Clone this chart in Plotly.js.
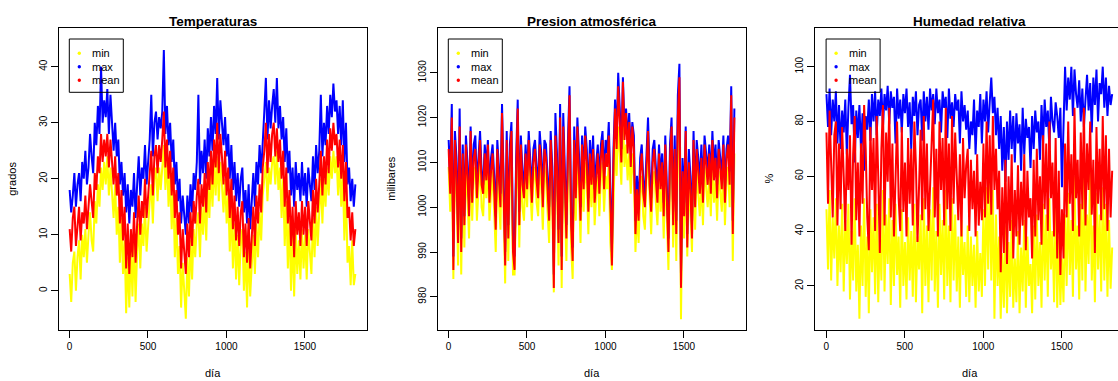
<!DOCTYPE html>
<html>
<head>
<meta charset="utf-8">
<script src="https://cdn.plot.ly/plotly-3.0.1.min.js"></script>
<style>
html, body { margin: 0; padding: 0; overflow: hidden; background: #fff; }
#chart { width: 1128px; height: 381px; }
</style>
</head>
<body>
<div id="chart"></div>
<script>
const DAY_STEP = 10;
const seriesNames = ["min", "max", "mean"];
const xTicks = [0, 500, 1000, 1500];

const tempMin = [
  3, -2, 5, 7, 0, 6, 9, 2, 10, 6,
  11, 5, 10, 14, 9, 7, 16, 12, 19, 15,
  22, 18, 23, 19, 24, 17, 22, 18, 13, 19,
  10, 15, 5, 13, 3, 9, -4, 6, -3, 8,
  -1, 9, -2, 7, 12, 4, 12, 8, 15, 7,
  12, 16, 19, 12, 20, 22, 16, 22, 18, 23,
  26, 18, 24, 15, 21, 11, 18, 6, 13, 3,
  8, -3, 5, 0, -5, 6, -1, 9, 2, 11,
  6, 12, 14, 6, 15, 10, 17, 9, 19, 13,
  21, 15, 23, 17, 24, 16, 23, 19, 14, 20,
  12, 17, 7, 15, 4, 12, 2, 10, 1, 9,
  11, 0, 7, -3, 8, -1, 5, 10, 3, 12,
  6, 14, 9, 17, 20, 23, 16, 22, 19, 23,
  24, 19, 25, 18, 22, 13, 20, 8, 16, 4,
  13, 0, 10, -1, 11, 3, 9, 2, 11, 4,
  10, 2, 11, 6, 3, 13, 6, 15, 8, 14,
  20, 12, 20, 15, 22, 17, 24, 20, 25, 21,
  24, 17, 23, 15, 21, 9, 18, 5, 8, 1,
  9, 1, 3
];
const tempMax = [
  18, 14, 17, 21, 15, 19, 21, 16, 23, 20,
  25, 19, 22, 28, 24, 21, 30, 26, 33, 28,
  40, 30, 34, 31, 36, 28, 35, 29, 25, 30,
  24, 27, 19, 23, 17, 21, 14, 19, 12, 18,
  15, 21, 13, 19, 24, 17, 22, 20, 26, 19,
  23, 27, 35, 24, 30, 32, 27, 31, 29, 32,
  43, 28, 33, 26, 30, 23, 27, 19, 23, 16,
  20, 12, 17, 14, 10, 17, 12, 19, 14, 21,
  18, 23, 35, 19, 25, 21, 27, 20, 29, 24,
  31, 25, 33, 28, 38, 27, 34, 30, 26, 31,
  24, 28, 20, 26, 18, 23, 16, 21, 15, 20,
  22, 14, 18, 12, 19, 11, 16, 21, 15, 23,
  19, 26, 21, 28, 32, 38, 27, 34, 29, 33,
  36, 30, 38, 29, 33, 27, 31, 23, 29, 21,
  25, 17, 22, 15, 23, 18, 21, 16, 23, 17,
  21, 15, 22, 19, 16, 24, 18, 26, 21, 25,
  35, 24, 30, 26, 33, 28, 35, 31, 37, 32,
  34, 28, 33, 26, 34, 23, 30, 19, 22, 16,
  20, 15, 19
];
const tempMean = [
  11, 7, 13, 15, 8, 12, 15, 9, 14, 12,
  17, 11, 15, 19, 16, 13, 21, 18, 24, 21,
  28, 23, 27, 24, 28, 22, 27, 23, 19, 24,
  17, 21, 12, 18, 9, 15, 4, 12, 3, 11,
  6, 14, 5, 12, 17, 10, 16, 13, 20, 13,
  17, 21, 25, 17, 24, 26, 21, 26, 23, 27,
  32, 22, 27, 20, 25, 17, 22, 13, 18, 10,
  14, 4, 11, 7, 3, 12, 6, 14, 8, 16,
  12, 17, 20, 12, 19, 15, 21, 14, 23, 18,
  25, 19, 27, 22, 30, 21, 28, 24, 19, 25,
  17, 22, 13, 20, 11, 17, 9, 15, 8, 14,
  16, 6, 12, 5, 13, 4, 10, 15, 8, 17,
  12, 19, 14, 22, 25, 30, 21, 28, 23, 28,
  30, 24, 29, 23, 27, 20, 25, 15, 22, 12,
  18, 8, 15, 6, 16, 10, 14, 8, 16, 10,
  15, 8, 16, 12, 9, 18, 12, 20, 14, 19,
  25, 17, 24, 19, 27, 21, 29, 25, 30, 26,
  28, 22, 27, 20, 26, 16, 23, 13, 15, 9,
  14, 8, 11
];

const presMin = [
  1009, 999, 1015, 984, 1011, 1003, 987, 1013, 985, 1007,
  991, 1010, 1002, 993, 1012, 997, 1007, 1009, 997, 1005,
  1011, 1000, 998, 1008, 1002, 1010, 997, 1003, 1008, 999,
  990, 1008, 1002, 995, 1015, 998, 983, 1010, 988, 1006,
  1012, 985, 985, 1003, 1015, 991, 1009, 1000, 997, 1008,
  1000, 1011, 1003, 997, 1006, 1009, 1001, 998, 1010, 1004,
  995, 1009, 1006, 1000, 992, 1010, 1001, 981, 1010, 1004,
  987, 1013, 982, 1012, 999, 988, 1006, 1018, 991, 984,
  1010, 997, 1012, 1004, 992, 1009, 999, 1010, 1005, 994,
  1008, 1000, 1009, 996, 1003, 1007, 998, 1007, 1010, 999,
  1007, 1004, 1010, 992, 986, 1005, 1015, 1007, 1018, 1012,
  1005, 1020, 1009, 1014, 1006, 1012, 1003, 1012, 1007, 990,
  999, 992, 1003, 1007, 998, 995, 1006, 1011, 1000, 994,
  1005, 1008, 1001, 996, 1007, 999, 1005, 993, 1009, 998,
  986, 1006, 1012, 991, 1008, 988, 1013, 1020, 975, 1003,
  993, 1011, 989, 1005, 999, 990, 1010, 995, 1008, 1003,
  998, 1006, 996, 1009, 1004, 1000, 1007, 998, 1010, 1001,
  1006, 997, 1008, 1003, 999, 1009, 996, 1006, 1009, 1000,
  1017, 988, 1012
];
const presMax = [
  1015, 1006, 1023, 989, 1017, 1011, 995, 1022, 993, 1014,
  998, 1016, 1010, 1001, 1018, 1004, 1014, 1016, 1005, 1011,
  1017, 1008, 1005, 1014, 1009, 1015, 1004, 1011, 1014, 1007,
  998, 1015, 1010, 1003, 1023, 1006, 990, 1017, 996, 1014,
  1019, 993, 989, 1011, 1024, 999, 1016, 1008, 1005, 1014,
  1007, 1017, 1011, 1004, 1013, 1015, 1009, 1005, 1017, 1012,
  1003, 1015, 1014, 1007, 1000, 1017, 1009, 985, 1021, 1012,
  995, 1023, 989, 1021, 1007, 996, 1015, 1027, 999, 991,
  1018, 1005, 1020, 1012, 1000, 1016, 1007, 1018, 1013, 1002,
  1015, 1008, 1016, 1004, 1010, 1014, 1006, 1014, 1017, 1007,
  1015, 1012, 1019, 1000, 990, 1013, 1024, 1016, 1030, 1022,
  1013, 1029, 1018, 1022, 1015, 1021, 1012, 1019, 1016, 997,
  1007, 1000, 1011, 1014, 1006, 1003, 1013, 1020, 1008, 1002,
  1013, 1015, 1009, 1004, 1014, 1007, 1012, 1001, 1016, 1006,
  993, 1014, 1020, 999, 1016, 997, 1025, 1032, 985, 1011,
  1001, 1018, 994, 1013, 1007, 996, 1017, 1003, 1015, 1011,
  1006, 1014, 1004, 1016, 1012, 1008, 1014, 1006, 1017, 1009,
  1014, 1005, 1015, 1011, 1007, 1016, 1004, 1013, 1016, 1008,
  1027, 997, 1022
];
const presMean = [
  1013, 1003, 1020, 986, 1015, 1008, 992, 1018, 990, 1012,
  996, 1014, 1007, 998, 1017, 1001, 1011, 1013, 1002, 1009,
  1015, 1005, 1003, 1012, 1006, 1014, 1001, 1008, 1012, 1004,
  995, 1013, 1007, 1000, 1021, 1003, 987, 1015, 993, 1011,
  1017, 990, 986, 1008, 1022, 996, 1014, 1005, 1002, 1012,
  1004, 1015, 1008, 1001, 1010, 1013, 1006, 1002, 1014, 1009,
  1000, 1013, 1011, 1004, 997, 1015, 1006, 982, 1016, 1009,
  992, 1020, 986, 1018, 1004, 993, 1012, 1025, 996, 988,
  1015, 1002, 1018, 1009, 997, 1014, 1004, 1016, 1010, 999,
  1012, 1005, 1013, 1001, 1007, 1012, 1003, 1011, 1015, 1004,
  1012, 1009, 1016, 997, 987, 1010, 1022, 1013, 1027, 1019,
  1010, 1028, 1015, 1021, 1012, 1019, 1009, 1018, 1013, 994,
  1004, 997, 1008, 1012, 1003, 1000, 1011, 1017, 1005, 999,
  1010, 1013, 1006, 1001, 1012, 1004, 1010, 998, 1014, 1003,
  990, 1011, 1018, 996, 1013, 994, 1020, 1029, 982, 1008,
  998, 1017, 991, 1010, 1004, 993, 1015, 1000, 1013, 1008,
  1003, 1011, 1001, 1014, 1009, 1005, 1012, 1003, 1015, 1006,
  1011, 1002, 1013, 1008, 1004, 1014, 1001, 1011, 1014, 1005,
  1025, 994, 1020
];

const humMin = [
  48, 26, 55, 22, 45, 30, 52, 20, 42, 25,
  50, 18, 44, 28, 50, 15, 40, 22, 52, 18,
  35, 8, 42, 20, 52, 16, 38, 10, 48, 25,
  45, 17, 50, 14, 40, 22, 55, 18, 46, 28,
  52, 13, 44, 20, 50, 24, 38, 12, 48, 20,
  36, 15, 45, 22, 40, 16, 50, 14, 38, 26,
  46, 10, 52, 20, 42, 14, 48, 22, 56, 18,
  40, 12, 50, 24, 44, 15, 55, 20, 42, 14,
  52, 22, 46, 18, 38, 12, 44, 24, 36, 16,
  42, 14, 38, 20, 35, 12, 40, 18, 32, 16,
  48, 20, 56, 26, 60, 22, 55, 8, 46, 20,
  38, 8, 32, 12, 42, 10, 36, 16, 44, 12,
  30, 14, 40, 10, 34, 18, 44, 12, 38, 20,
  28, 10, 42, 15, 46, 20, 36, 12, 50, 22,
  46, 16, 52, 26, 40, 14, 50, 12, 38, 13,
  30, 14, 46, 20, 54, 24, 44, 16, 60, 26,
  42, 15, 50, 22, 62, 18, 46, 28, 64, 22,
  42, 14, 54, 26, 46, 18, 56, 22, 50, 16,
  44, 19, 34
];
const humMax = [
  90, 78, 92, 75, 88, 80, 91, 72, 86, 70,
  84, 76, 88, 68, 85, 97, 79, 86, 65, 84,
  74, 86, 70, 83, 62, 82, 77, 88, 73, 90,
  80, 91, 75, 88, 82, 92, 78, 90, 84, 93,
  79, 91, 85, 89, 72, 92, 81, 88, 76, 90,
  83, 92, 78, 87, 70, 89, 82, 91, 75, 86,
  88, 73, 91, 80, 89, 77, 92, 84, 90, 79,
  92, 83, 88, 76, 91, 85, 89, 74, 92, 81,
  87, 78, 90, 84, 88, 72, 91, 80, 86, 77,
  84, 70, 80, 75, 88, 68, 84, 78, 90, 72,
  88, 80, 91, 76, 87, 96, 83, 89, 75, 85,
  70, 82, 62, 78, 58, 80, 66, 84, 70, 82,
  65, 83, 72, 79, 62, 85, 68, 81, 74, 78,
  63, 82, 70, 84, 76, 80, 66, 86, 72, 88,
  78, 84, 70, 89, 80, 76, 87, 82, 74, 85,
  56, 80, 100, 84, 96, 88, 100, 82, 99, 90,
  85, 95, 80, 92, 78, 88, 97, 84, 94, 76,
  96, 86, 99, 80, 94, 90, 100, 85, 96, 82,
  93, 86, 90
];
const humMean = [
  76, 50, 84, 62, 45, 75, 80, 42, 72, 48,
  78, 60, 40, 70, 55, 75, 35, 68, 82, 44,
  65, 38, 72, 50, 86, 70, 45, 33, 78, 55,
  74, 40, 82, 60, 32, 70, 86, 42, 76, 58,
  85, 45, 72, 38, 60, 80, 52, 40, 78, 47,
  65, 38, 74, 50, 70, 42, 80, 64, 36, 55,
  77, 44, 82, 48, 72, 40, 58, 78, 88, 45,
  70, 38, 80, 55, 74, 42, 85, 48, 72, 40,
  82, 50, 76, 60, 44, 68, 38, 74, 52, 64,
  70, 40, 66, 48, 62, 38, 68, 42, 58, 44,
  72, 45, 80, 50, 75, 46, 82, 55, 70, 48,
  62, 25, 56, 32, 66, 28, 60, 40, 68, 30,
  55, 38, 64, 35, 58, 42, 68, 33, 62, 45,
  52, 30, 66, 38, 70, 44, 60, 35, 75, 48,
  72, 40, 80, 52, 65, 38, 74, 30, 62, 24,
  48, 30, 72, 45, 80, 50, 68, 40, 85, 52,
  66, 38, 76, 48, 85, 42, 72, 55, 80, 46,
  66, 32, 78, 50, 70, 44, 82, 48, 75, 40,
  70, 45, 62
];

const panels = [
  { title: "Temperaturas", ylab: "grados", yTicks: [0, 10, 20, 30, 40], yRange: [-7, 47],
    series: [tempMin, tempMax, tempMean] },
  { title: "Presion atmosférica", ylab: "milibares", yTicks: [980, 990, 1000, 1010, 1020, 1030], yRange: [972.6, 1040.1],
    series: [presMin, presMax, presMean] },
  { title: "Humedad relativa", ylab: "%", yTicks: [20, 40, 60, 80, 100], yRange: [3.9, 114.3],
    series: [humMin, humMax, humMean] }
];

// ---- layout geometry (pixels) ----
const W = 1128, H = 381;
const fx = p => p / W;
const fy = p => 1 - p / H;
const boxLeft = [58.5, 437.5, 815.3];
const boxW = 308.8;
const boxTop = 27.5, boxBottom = 330;
const xRange = [-70, 1897];
const colors = ["#FFFF00", "#0000FF", "#FF0000"];
const FONT = "Liberation Sans, Arial, Helvetica, sans-serif";

const traces = [];
const layout = {
  width: W, height: H,
  margin: { l: 0, r: 0, t: 0, b: 0, pad: 0 },
  paper_bgcolor: "#fff", plot_bgcolor: "#fff",
  showlegend: false,
  font: { family: FONT, color: "#000", size: 10 },
  annotations: [], shapes: []
};

panels.forEach((p, k) => {
  const sfx = k === 0 ? "" : String(k + 1);
  const L = boxLeft[k], R = L + boxW;
  p.series.forEach((vals, j) => {
    traces.push({
      type: "scatter", mode: "lines",
      x: vals.map((_, i) => 1 + i * DAY_STEP), y: vals,
      xaxis: "x" + sfx, yaxis: "y" + sfx,
      line: { color: colors[j], width: 2 },
      hoverinfo: "skip", name: seriesNames[j]
    });
  });
  const axCommon = {
    showgrid: false, zeroline: false, showline: true, mirror: true,
    linecolor: "#000", linewidth: 1, ticks: "outside", ticklen: 7,
    tickcolor: "#000", tickwidth: 1, tickfont: { family: FONT, size: 10, color: "#000" }
  };
  layout["xaxis" + sfx] = Object.assign({}, axCommon, {
    domain: [fx(L), fx(R)], range: xRange, tickvals: xTicks, ticktext: xTicks.map(String),
    anchor: "y" + sfx
  });
  layout["yaxis" + sfx] = Object.assign({}, axCommon, {
    domain: [fy(boxBottom), fy(boxTop)], range: p.yRange, tickvals: p.yTicks,
    ticktext: p.yTicks.map(String), tickangle: -90, anchor: "x" + sfx
  });
  const cx = (L + R) / 2;
  layout.annotations.push({
    xref: "paper", yref: "paper", x: fx(cx), y: fy(21), xanchor: "center", yanchor: "middle",
    text: "<b>" + p.title + "</b>", showarrow: false, font: { family: FONT, size: 13.5, color: "#000" }
  });
  layout.annotations.push({
    xref: "paper", yref: "paper", x: fx(cx), y: fy(381), xanchor: "center", yanchor: "bottom",
    text: "día", showarrow: false, font: { family: FONT, size: 11, color: "#000" }
  });
  layout.annotations.push({
    xref: "paper", yref: "paper", x: fx(L - 46.5), y: fy((boxTop + boxBottom) / 2),
    xanchor: "center", yanchor: "middle", textangle: -90,
    text: p.ylab, showarrow: false, font: { family: FONT, size: 11, color: "#000" }
  });
  // legend box
  const lgL = L + 10.8, lgR = lgL + 54, lgT = 39, lgB = 92.3;
  layout.shapes.push({
    type: "rect", xref: "paper", yref: "paper",
    x0: fx(lgL), x1: fx(lgR), y0: fy(lgB), y1: fy(lgT),
    line: { color: "#000", width: 1 }, fillcolor: "rgba(0,0,0,0)", layer: "above"
  });
  const rowsY = [53.3, 66.7, 80.3];
  seriesNames.forEach((nm, j) => {
    const dx = lgL + 10, dy = rowsY[j], r = 1.7;
    layout.shapes.push({
      type: "circle", xref: "paper", yref: "paper",
      x0: fx(dx - r), x1: fx(dx + r), y0: fy(dy + r), y1: fy(dy - r),
      fillcolor: colors[j], line: { width: 0 }, layer: "above"
    });
    layout.annotations.push({
      xref: "paper", yref: "paper", x: fx(lgL + 20.5), y: fy(dy), xanchor: "left", yanchor: "middle",
      text: nm, showarrow: false, font: { family: FONT, size: 11, color: "#000" }
    });
  });
});

Plotly.newPlot("chart", traces, layout, { staticPlot: true, displayModeBar: false });
</script>
</body>
</html>
